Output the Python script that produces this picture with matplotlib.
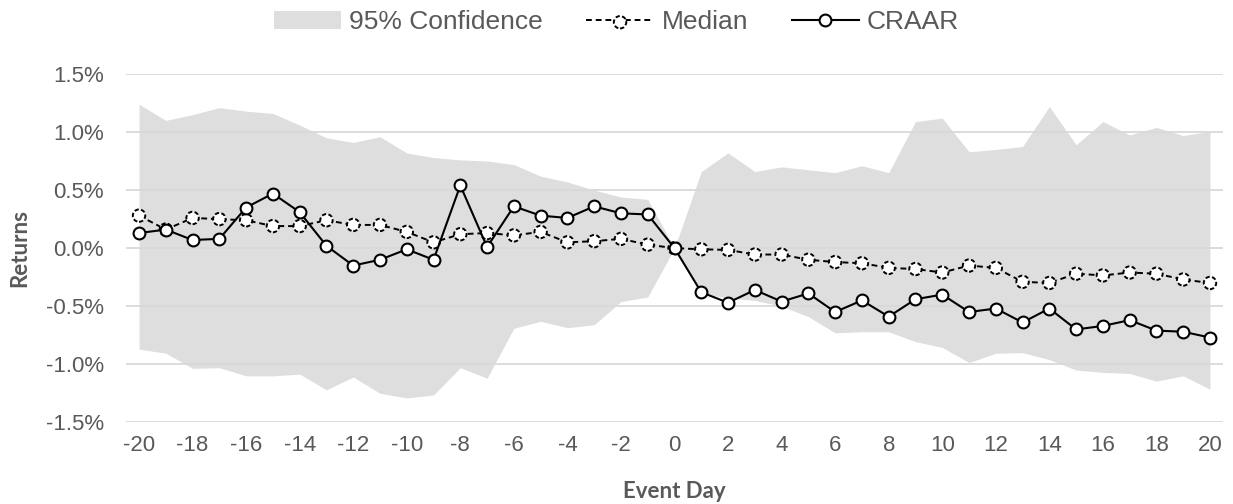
"""
Cumulative abnormal returns around the event day, with a 95% confidence band.
"""

import matplotlib
matplotlib.use('Agg')
import matplotlib.pyplot as plt
import numpy as np
from matplotlib.legend_handler import HandlerTuple
from matplotlib.ticker import FuncFormatter

# Event window (days relative to event)
event_days = list(range(-20, 21))

# Returns in percent
craar = [0.13, 0.16, 0.07, 0.08, 0.35, 0.47, 0.31, 0.02, -0.15, -0.10,
         -0.01, -0.10, 0.54, 0.01, 0.36, 0.28, 0.26, 0.36, 0.30, 0.29,
         0.00, -0.38, -0.47, -0.36, -0.46, -0.39, -0.55, -0.45, -0.59, -0.44,
         -0.40, -0.55, -0.52, -0.64, -0.52, -0.70, -0.67, -0.62, -0.71, -0.72,
         -0.77]
median = [0.28, 0.16, 0.26, 0.25, 0.24, 0.19, 0.19, 0.24, 0.20, 0.20,
          0.14, 0.05, 0.12, 0.13, 0.11, 0.14, 0.05, 0.06, 0.08, 0.03,
          0.00, -0.01, -0.015, -0.055, -0.055, -0.10, -0.12, -0.13, -0.17, -0.18,
          -0.21, -0.15, -0.17, -0.29, -0.30, -0.22, -0.235, -0.21, -0.22, -0.27,
          -0.30]
conf_upper = [1.24, 1.10, 1.15, 1.21, 1.18, 1.16, 1.06, 0.95, 0.91, 0.96,
              0.82, 0.78, 0.76, 0.75, 0.72, 0.62, 0.57, 0.50, 0.44, 0.42,
              0.00, 0.66, 0.82, 0.66, 0.70, 0.675, 0.65, 0.71, 0.65, 1.09,
              1.12, 0.83, 0.85, 0.875, 1.22, 0.89, 1.09, 0.975, 1.04, 0.97,
              1.005]
conf_lower = [-0.87, -0.905, -1.035, -1.03, -1.10, -1.10, -1.085, -1.22, -1.11, -1.25,
              -1.29, -1.265, -1.03, -1.12, -0.69, -0.63, -0.685, -0.66, -0.46, -0.42,
              0.00, -0.39, -0.43, -0.45, -0.50, -0.59, -0.73, -0.72, -0.72, -0.805,
              -0.855, -0.985, -0.905, -0.90, -0.96, -1.05, -1.07, -1.08, -1.145, -1.10,
              -1.215]

y_ticks = [-1.5, -1.0, -0.5, 0.0, 0.5, 1.0, 1.5]
x_ticks = list(range(-20, 21, 2))

text_color = '#595959'
band_color = '#dedede'
grid_color = '#d9d9d9'

plt.rcParams['font.family'] = ['Liberation Sans', 'DejaVu Sans']
plt.rcParams['axes.unicode_minus'] = False

fig = plt.figure(figsize=(12.33, 5.04), dpi=100)
ax = fig.add_axes([0.1019, 0.1621, 0.8903, 0.6911])

x = np.array(event_days)

# Confidence band
band = ax.fill_between(x, conf_lower, conf_upper, color=band_color,
                       linewidth=0, zorder=0)

# Gridlines
for yv in y_ticks:
    ax.axhline(yv, color=grid_color, linewidth=1.3, zorder=1)

# Median: dashed line and dashed-edge markers
med_line, = ax.plot(x, median, color='black', linewidth=1.4,
                    linestyle=(0, (3, 2)), zorder=2)
med_pts = ax.scatter(x, median, s=80, facecolor='white', edgecolor='black',
                     linewidth=1.4, linestyle=(0, (2.2, 1.2)), zorder=3)

# CRAAR
craar_line, = ax.plot(x, craar, color='black', linewidth=1.5, marker='o',
                      markersize=8.5, markerfacecolor='white',
                      markeredgecolor='black', markeredgewidth=1.5, zorder=4)

ax.set_xlim(-20.5, 20.5)
ax.set_ylim(-1.5, 1.5)
ax.set_xticks(x_ticks)
ax.set_yticks(y_ticks)
ax.yaxis.set_major_formatter(FuncFormatter(lambda v, p: f'{v:.1f}%'))
ax.tick_params(axis='both', length=0, labelsize=16, labelcolor=text_color)
ax.tick_params(axis='x', pad=9)
ax.tick_params(axis='y', pad=15.5)
for side in ['top', 'right', 'bottom', 'left']:
    ax.spines[side].set_visible(False)

ax.set_xlabel('Event Day', fontsize=16, fontweight='bold', color=text_color,
              family=['Lato', 'DejaVu Sans'], labelpad=18)
ax.set_ylabel('Returns', fontsize=16, fontweight='bold', color=text_color,
              family=['Lato', 'DejaVu Sans'], labelpad=11.5)

fig.legend([band, (med_line, med_pts), craar_line],
           ['95% Confidence', 'Median', 'CRAAR'],
           handler_map={tuple: HandlerTuple(ndivide=1)},
           loc='center', bbox_to_anchor=(0.5, 0.956), ncol=3,
           frameon=False, fontsize=19, labelcolor=text_color,
           handlelength=2.55, handletextpad=0.3, columnspacing=1.65)

fig.savefig('out.png', dpi=100)
